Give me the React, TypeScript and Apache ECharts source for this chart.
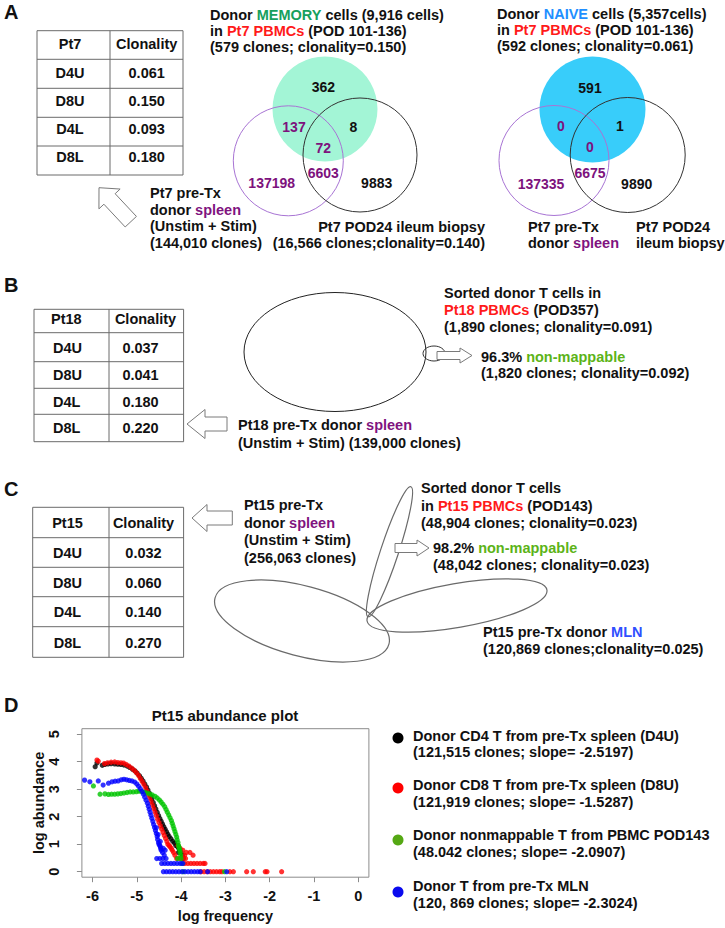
import React, { useEffect, useRef } from 'react';
import * as echarts from 'echarts';

const FONT = '"Liberation Sans", Arial, Helvetica, sans-serif';
const FS = 14.5;

// ---------- DATA ----------
const tableHeader = ['Clonality'];
const tableRows = ['D4U', 'D8U', 'D4L', 'D8L'];
const pt7Clonality = ['0.061', '0.150', '0.093', '0.180'];
const pt18Clonality = ['0.037', '0.041', '0.180', '0.220'];
const pt15Clonality = ['0.032', '0.060', '0.140', '0.270'];

// Venn counts: [memOnly, mem∩spleen, mem∩ileum, all three, spleen∩ileum, spleenOnly, ileumOnly]
const memoryVenn = ['362', '137', '8', '72', '6603', '137198', '9883'];
const naiveVenn = ['591', '0', '1', '0', '6675', '137335', '9890'];

const xTicks = [-6, -5, -4, -3, -2, -1, 0];
const yTicks = [0, 1, 2, 3, 4, 5];

const d4uPoints = [
  [-5.94, 3.82], [-5.9, 3.95], [-5.78, 3.87], [-5.72, 3.9], [-5.65, 3.92], [-5.58, 3.93], [-5.5, 3.92],
  [-5.43, 3.91], [-5.36, 3.9], [-5.29, 3.88], [-5.22, 3.84], [-5.16, 3.79], [-5.1, 3.73], [-5.04, 3.66],
  [-4.99, 3.58], [-4.94, 3.49], [-4.9, 3.4], [-4.86, 3.3], [-4.82, 3.19], [-4.78, 3.08], [-4.75, 2.97],
  [-4.72, 2.86], [-4.69, 2.75], [-4.66, 2.64], [-4.63, 2.52], [-4.6, 2.4], [-4.57, 2.28], [-4.54, 2.16],
  [-4.51, 2.04], [-4.48, 1.93], [-4.45, 1.83], [-4.42, 1.73], [-4.39, 1.63], [-4.36, 1.54], [-4.33, 1.45],
  [-4.3, 1.36], [-4.27, 1.28], [-4.23, 1.2], [-4.19, 1.11], [-4.15, 1.04], [-4.12, 0.954], [-4.08, 0.903],
  [-4.05, 0.845], [-4.03, 0.778], [-4.0, 0.699], [-3.97, 0.602], [-4.06, 0.699], [-3.95, 0.477],
];
const d8uPoints = [
  [-5.9, 4.06], [-5.87, 4.02], [-5.73, 3.93], [-5.66, 3.96], [-5.58, 3.98], [-5.5, 3.99], [-5.43, 3.97],
  [-5.36, 3.96], [-5.3, 3.95], [-5.24, 3.9], [-5.18, 3.84], [-5.12, 3.77], [-5.06, 3.69], [-5.01, 3.6],
  [-4.96, 3.5], [-4.92, 3.39], [-4.88, 3.28], [-4.84, 3.17], [-4.8, 3.05], [-4.77, 2.93], [-4.74, 2.81],
  [-4.71, 2.69], [-4.68, 2.56], [-4.65, 2.43], [-4.62, 2.3], [-4.59, 2.17], [-4.56, 2.04], [-4.53, 1.91],
  [-4.5, 1.79], [-4.47, 1.67], [-4.44, 1.55], [-4.41, 1.43], [-4.38, 1.32], [-4.35, 1.21], [-4.32, 1.1],
  [-4.3, 1.0], [-4.27, 0.954], [-4.25, 0.903], [-4.22, 0.845], [-4.2, 0.778], [-4.17, 0.699], [-4.14, 0.602],
  [-4.07, 0.954], [-4.02, 0.845], [-3.96, 0.778], [-3.88, 0.699], [-3.8, 0.699], [-3.73, 0.602], [-3.92, 0.602],
  [-4.1, 0.477], [-4.03, 0.477], [-3.96, 0.477], [-3.9, 0.477],
  [-3.92, 0.301], [-3.85, 0.301], [-3.78, 0.301], [-3.71, 0.301], [-3.64, 0.301], [-3.57, 0.301], [-3.5, 0.301], [-3.46, 0.301],
  [-3.55, 0], [-3.48, 0], [-3.41, 0], [-3.34, 0], [-3.27, 0], [-3.2, 0], [-3.13, 0], [-3.08, 0],
  [-2.9, 0], [-2.82, 0], [-2.52, 0], [-2.37, 0], [-2.1, 0], [-2.06, 0], [-1.73, 0],
];
const nonmapPoints = [
  [-5.98, 3.12], [-5.83, 2.82], [-5.72, 2.83], [-5.64, 2.81], [-5.57, 2.82], [-5.5, 2.82], [-5.43, 2.83],
  [-5.36, 2.84], [-5.29, 2.86], [-5.22, 2.88], [-5.15, 2.9], [-5.08, 2.9], [-5.01, 2.91], [-4.95, 2.93],
  [-4.89, 2.92], [-4.83, 2.89], [-4.77, 2.86], [-4.71, 2.83], [-4.65, 2.79], [-4.59, 2.74], [-4.54, 2.68],
  [-4.49, 2.61], [-4.45, 2.53], [-4.41, 2.45], [-4.37, 2.36], [-4.34, 2.26], [-4.31, 2.16], [-4.28, 2.06],
  [-4.25, 1.96], [-4.22, 1.86], [-4.2, 1.76], [-4.18, 1.66], [-4.16, 1.56], [-4.14, 1.46], [-4.12, 1.36],
  [-4.1, 1.26], [-4.09, 1.16], [-4.07, 1.06], [-4.06, 0.954], [-4.05, 0.903], [-4.04, 0.845], [-4.03, 0.778],
  [-4.02, 0.699], [-4.01, 0.602], [-4.0, 0.477], [-4.08, 0.477], [-3.98, 0.301], [-3.95, 0], [-3.02, 0],
];
const mlnPoints = [
  [-6.18, 3.33], [-6.06, 3.27], [-5.87, 3.3], [-5.76, 3.15], [-5.64, 3.22], [-5.56, 3.27], [-5.49, 3.29],
  [-5.42, 3.3], [-5.35, 3.34], [-5.29, 3.36], [-5.23, 3.34], [-5.17, 3.32], [-5.11, 3.3], [-5.05, 3.26],
  [-5.0, 3.19], [-4.96, 3.11], [-4.92, 3.02], [-4.88, 2.92], [-4.85, 2.82], [-4.82, 2.71], [-4.79, 2.6],
  [-4.76, 2.49], [-4.74, 2.38], [-4.72, 2.27], [-4.7, 2.16], [-4.68, 2.05], [-4.66, 1.94], [-4.64, 1.83],
  [-4.62, 1.72], [-4.6, 1.61], [-4.58, 1.5], [-4.56, 1.39], [-4.54, 1.28], [-4.53, 1.17], [-4.51, 1.06],
  [-4.5, 1.0], [-4.48, 0.954], [-4.47, 0.903], [-4.46, 0.845], [-4.45, 0.778], [-4.42, 0.699], [-4.38, 0.602],
  [-4.56, 1.6], [-4.52, 1.35], [-4.47, 1.1], [-4.4, 0.845], [-4.36, 0.778],
  [-4.55, 0.477], [-4.48, 0.477], [-4.41, 0.477], [-4.34, 0.477],
  [-4.44, 0.301], [-4.37, 0.301], [-4.3, 0.301], [-4.23, 0.301], [-4.16, 0.301], [-4.09, 0.301], [-4.02, 0.301], [-3.96, 0.301],
  [-4.4, 0], [-4.33, 0], [-4.26, 0], [-4.19, 0], [-4.12, 0], [-4.05, 0], [-3.98, 0], [-3.91, 0], [-3.84, 0],
  [-3.77, 0], [-3.7, 0], [-3.63, 0], [-3.57, 0], [-3.4, 0], [-2.97, 0],
];

const seriesNames = [
  'Donor CD4 T from pre-Tx spleen (D4U)',
  'Donor CD8 T from pre-Tx spleen (D8U)',
  'Donor nonmappable T from PBMC POD143',
  'Donor T from pre-Tx MLN',
];
const seriesDetails = [
  '(121,515 clones; slope= -2.5197)',
  '(121,919 clones; slope= -1.5287)',
  '(48.042 clones; slope= -2.0907)',
  '(120, 869 clones; slope= -2.3024)',
];
const plotColors = ['#000000', '#ff0000', '#00c400', '#0000ff'];
const legendDotColors = ['#000000', '#ff0000', '#55a814', '#0a0aee'];

// ---------- HELPERS ----------
const fst = (size = FS) => ({ fontSize: size, fontWeight: 'bold', fontFamily: FONT });

const RICH_COLORS: any = {
  t: '#111111',
  mem: '#17a05d',
  red: '#ff1a1a',
  nai: '#1f8fff',
  pur: '#80137f',
  nm: '#5cb318',
  mln: '#2f4fff',
};
function richFor(size: number) {
  const r: any = {};
  Object.keys(RICH_COLORS).forEach((k) => {
    r[k] = { ...fst(size), fill: RICH_COLORS[k], color: RICH_COLORS[k] };
  });
  return r;
}

// wrap plain segments into {t|...} so every token carries the font
function wrapRich(text: string) {
  const re = /\{(\w+)\|([^}]*)\}/g;
  let out = '';
  let last = 0;
  let m: RegExpExecArray | null;
  while ((m = re.exec(text))) {
    if (m.index > last) out += `{t|${text.slice(last, m.index)}}`;
    out += m[0];
    last = m.index + m[0].length;
  }
  if (last < text.length) out += `{t|${text.slice(last)}}`;
  return out;
}

function T(x: number, y: number, text: string, o: any = {}) {
  const size = o.size || FS;
  const hasRich = text.indexOf('{') >= 0;
  const style: any = {
    text: hasRich ? wrapRich(text) : text,
    ...fst(size),
    fill: o.fill || '#111111',
    align: o.align || 'left',
    verticalAlign: 'middle',
  };
  if (hasRich) style.rich = richFor(size);
  return { type: 'text', x, y, silent: true, style };
}

const line = (x1: number, y1: number, x2: number, y2: number, stroke = '#6b6b6b', w = 1) => ({
  type: 'line',
  silent: true,
  shape: { x1, y1, x2, y2 },
  style: { stroke, lineWidth: w },
});

function table(x0: number, x1: number, xm: number, ys: number[]) {
  const els: any[] = [];
  els.push({
    type: 'rect',
    silent: true,
    shape: { x: x0, y: ys[0], width: x1 - x0, height: ys[ys.length - 1] - ys[0] },
    style: { fill: '#ffffff', stroke: '#6b6b6b', lineWidth: 1 },
  });
  for (let i = 1; i < ys.length - 1; i++) els.push(line(x0, ys[i], x1, ys[i]));
  els.push(line(xm, ys[0], xm, ys[ys.length - 1]));
  return els;
}

function arrow(tx: number, ty: number, hx: number, hy: number, sh: number, hh: number, hl: number) {
  const L = Math.hypot(hx - tx, hy - ty);
  const dx = (hx - tx) / L;
  const dy = (hy - ty) / L;
  const nx = -dy;
  const ny = dx;
  const bx = hx - dx * hl;
  const by = hy - dy * hl;
  const pts = [
    [tx + nx * sh, ty + ny * sh],
    [bx + nx * sh, by + ny * sh],
    [bx + nx * hh, by + ny * hh],
    [hx, hy],
    [bx - nx * hh, by - ny * hh],
    [bx - nx * sh, by - ny * sh],
    [tx - nx * sh, ty - ny * sh],
  ];
  return {
    type: 'polygon',
    silent: true,
    shape: { points: pts },
    style: { fill: '#ffffff', stroke: '#7a7a7a', lineWidth: 1 },
  };
}

const circ = (cx: number, cy: number, r: number, style: any) => ({
  type: 'circle',
  silent: true,
  shape: { cx, cy, r },
  style,
});

const ell = (x: number, y: number, rx: number, ry: number, rotation: number, stroke = '#6a6a6a', w = 1.2) => ({
  type: 'ellipse',
  silent: true,
  x,
  y,
  rotation,
  shape: { cx: 0, cy: 0, rx, ry },
  style: { fill: 'none', stroke, lineWidth: w },
});

const PURPLE_NUM = '#7d127d';

function buildGraphics() {
  const g: any[] = [];

  // ---------- Panel A ----------
  g.push(T(4, 12, 'A', { size: 20 }));
  g.push(...table(37, 183, 110, [30.7, 59.3, 88.3, 117.3, 146, 175]));
  g.push(T(70, 44, 'Pt7', { align: 'center' }));
  g.push(T(146.7, 44, tableHeader[0], { align: 'center' }));
  const aRowY = [72.7, 100.5, 128.5, 156.7];
  tableRows.forEach((r, i) => {
    g.push(T(70, aRowY[i], r, { align: 'center' }));
    g.push(T(146.7, aRowY[i], pt7Clonality[i], { align: 'center' }));
  });

  // memory title
  g.push(T(210, 15, 'Donor {mem|MEMORY} cells (9,916 cells)'));
  g.push(T(210, 31, 'in {red|Pt7 PBMCs} (POD 101-136)'));
  g.push(T(210, 47, '(579 clones; clonality=0.150)'));
  // naive title
  g.push(T(497, 14, 'Donor {nai|NAIVE} cells (5,357cells)'));
  g.push(T(497, 30, 'in {red|Pt7 PBMCs} (POD 101-136)'));
  g.push(T(497, 46, '(592 clones; clonality=0.061)'));

  // memory venn
  g.push(circ(325, 109, 52.5, { fill: '#a3f5d6', stroke: 'none' }));
  g.push(circ(288.3, 160.8, 55, { fill: 'none', stroke: '#a874d4', lineWidth: 1 }));
  g.push(circ(360, 155, 57, { fill: 'none', stroke: '#333333', lineWidth: 1 }));
  const memPos = [[323.3, 86.7], [294, 126.7], [353.3, 126.7], [323.3, 147.7], [323.3, 173.3], [271.7, 183.3], [376.7, 183.3]];
  const purpleIdx = [1, 3, 4, 5];
  memoryVenn.forEach((v, i) => {
    g.push(T(memPos[i][0], memPos[i][1], v, { align: 'center', size: 14, fill: purpleIdx.includes(i) ? PURPLE_NUM : '#111111' }));
  });

  // naive venn
  g.push(circ(592.5, 109.5, 53, { fill: '#38cdfa', stroke: 'none' }));
  g.push(circ(554, 160.5, 55, { fill: 'none', stroke: '#a874d4', lineWidth: 1 }));
  g.push(circ(627.7, 155, 57.5, { fill: 'none', stroke: '#333333', lineWidth: 1 }));
  const naiPos = [[590, 87.7], [561, 126], [620, 126], [590, 146.7], [590, 172.7], [541, 184.3], [636.7, 184]];
  naiveVenn.forEach((v, i) => {
    g.push(T(naiPos[i][0], naiPos[i][1], v, { align: 'center', size: 14, fill: purpleIdx.includes(i) ? PURPLE_NUM : '#111111' }));
  });

  // arrow A and labels
  g.push(arrow(130.8, 221.7, 99, 187.7, 7.7, 14.5, 15.4));
  g.push(T(150, 193, 'Pt7 pre-Tx'));
  g.push(T(150, 209.5, 'donor {pur|spleen}'));
  g.push(T(150, 226, '(Unstim + Stim)'));
  g.push(T(150, 242.5, '(144,010 clones)'));
  g.push(T(485, 227, 'Pt7 POD24 ileum biopsy', { align: 'right' }));
  g.push(T(485, 243, '(16,566 clones;clonality=0.140)', { align: 'right' }));
  g.push(T(528, 227, 'Pt7 pre-Tx'));
  g.push(T(528, 243, 'donor {pur|spleen}'));
  g.push(T(636, 227, 'Pt7 POD24'));
  g.push(T(636, 243, 'ileum biopsy'));

  // ---------- Panel B ----------
  g.push(T(4, 285, 'B', { size: 20 }));
  g.push(...table(34, 183.6, 109, [309.3, 332.7, 361.7, 388.3, 414.3, 441.7]));
  g.push(T(51, 319.3, 'Pt18'));
  g.push(T(145.5, 319.3, tableHeader[0], { align: 'center' }));
  const bRowY = [348.3, 375, 401.7, 428.3];
  tableRows.forEach((r, i) => {
    g.push(T(53, bRowY[i], r));
    g.push(T(122.4, bRowY[i], pt18Clonality[i]));
  });
  g.push(ell(335, 352, 91, 59.5, 0, '#222222', 1));
  g.push(ell(434, 353.5, 11, 7.5, 0, '#333333', 1));
  g.push(arrow(437, 355.5, 472, 355.5, 4, 7.5, 12));
  g.push(T(444, 293, 'Sorted donor T cells in'));
  g.push(T(444, 310, '{red|Pt18 PBMCs} (POD357)'));
  g.push(T(444, 326.5, '(1,890 clones; clonality=0.091)'));
  g.push(T(481, 356.5, '96.3% {nm|non-mappable}'));
  g.push(T(481, 372.5, '(1,820 clones; clonality=0.092)'));
  g.push(arrow(227, 424, 187, 424, 7, 14.5, 18));
  g.push(T(238, 425, 'Pt18 pre-Tx donor {pur|spleen}'));
  g.push(T(238, 442.5, '(Unstim + Stim) (139,000 clones)'));

  // ---------- Panel C ----------
  g.push(T(4, 489, 'C', { size: 20 }));
  g.push(...table(32.7, 183.6, 109, [507.3, 537.7, 567.3, 596.7, 626.7, 657.3]));
  g.push(T(67.5, 522.7, 'Pt15', { align: 'center' }));
  g.push(T(143.5, 522.7, tableHeader[0], { align: 'center' }));
  const cRowY = [552.7, 582.7, 612.3, 642.7];
  tableRows.forEach((r, i) => {
    g.push(T(67.5, cRowY[i], r, { align: 'center' }));
    g.push(T(143.5, cRowY[i], pt15Clonality[i], { align: 'center' }));
  });
  g.push(arrow(232.3, 518, 192, 518, 7, 13.5, 15));
  g.push(T(244, 505, 'Pt15 pre-Tx'));
  g.push(T(244, 522.7, 'donor {pur|spleen}'));
  g.push(T(244, 540.3, '(Unstim + Stim)'));
  g.push(T(244, 557.7, '(256,063 clones)'));
  g.push(ell(302, 621, 90, 35, -0.26));
  g.push(ell(389.5, 551.7, 9, 68.4, -0.318));
  g.push(ell(457, 605.5, 91.3, 22, 0.171));
  g.push(T(421, 488.3, 'Sorted donor T cells'));
  g.push(T(421, 505.5, 'in {red|Pt15 PBMCs} (POD143)'));
  g.push(T(421, 522.7, '(48,904 clones; clonality=0.023)'));
  g.push(arrow(395, 548, 429, 548, 4.5, 8, 12));
  g.push(T(433, 548, '98.2% {nm|non-mappable}'));
  g.push(T(433, 565, '(48,042 clones; clonality=0.023)'));
  g.push(T(483, 632, 'Pt15 pre-Tx donor {mln|MLN}'));
  g.push(T(483, 649, '(120,869 clones;clonality=0.025)'));

  // ---------- Panel D ----------
  g.push(T(4, 705, 'D', { size: 20 }));
  const legY = [[738, 736, 752], [788, 785, 802], [840, 835, 852], [892, 886, 903]];
  seriesNames.forEach((n, i) => {
    g.push(circ(398, legY[i][0], 5.5, { fill: legendDotColors[i], stroke: 'none' }));
    g.push(T(413, legY[i][1], n));
    g.push(T(413, legY[i][2], seriesDetails[i]));
  });

  return g;
}

function buildOption(): any {
  const axisLabelStyle = { color: '#111111', fontWeight: 'bold', fontSize: FS, fontFamily: FONT };
  const seriesData = [d4uPoints, d8uPoints, nonmapPoints, mlnPoints];
  return {
    animation: false,
    backgroundColor: '#ffffff',
    title: {
      text: 'Pt15 abundance plot',
      left: 220,
      top: 703,
      textAlign: 'center',
      textStyle: { color: '#111111', fontWeight: 'bold', fontSize: 15, fontFamily: FONT },
    },
    grid: {
      left: 81.9,
      top: 728.7,
      width: 287,
      height: 148.5,
      show: true,
      borderColor: '#8c8c8c',
      borderWidth: 1,
      backgroundColor: 'transparent',
      outerBoundsMode: 'none',
      containLabel: false,
    },
    xAxis: {
      type: 'value',
      min: -6.24,
      max: 0.24,
      name: 'log frequency',
      nameLocation: 'middle',
      nameGap: 31,
      nameTextStyle: axisLabelStyle,
      axisLine: { show: false, onZero: false },
      splitLine: { show: false },
      axisTick: { show: true, length: 5, lineStyle: { color: '#8c8c8c' }, customValues: xTicks },
      axisLabel: { ...axisLabelStyle, customValues: xTicks, margin: 11 },
    },
    yAxis: {
      type: 'value',
      min: -0.2,
      max: 5.2,
      name: 'log abundance',
      nameLocation: 'middle',
      nameGap: 35,
      nameTextStyle: axisLabelStyle,
      axisLine: { show: false, onZero: false },
      splitLine: { show: false },
      axisTick: { show: true, length: 5, lineStyle: { color: '#8c8c8c' }, customValues: yTicks },
      axisLabel: { ...axisLabelStyle, customValues: yTicks, rotate: 90, margin: 20 },
    },
    series: seriesData.map((d, i) => ({
      type: 'scatter',
      name: seriesNames[i],
      data: d,
      symbol: 'circle',
      symbolSize: 5.2,
      itemStyle: { color: plotColors[i] },
      silent: true,
      z: 2 + i,
    })),
    graphic: { elements: buildGraphics() },
  };
}

export default function App() {
  const ref = useRef<HTMLDivElement>(null);
  useEffect(() => {
    document.body.style.margin = '0';
    const chart = echarts.init(ref.current as HTMLDivElement, null, { renderer: 'svg' });
    chart.setOption(buildOption());
    return () => {
      chart.dispose();
    };
  }, []);
  return <div ref={ref} style={{ width: 725, height: 928, background: '#fff' }} />;
}
